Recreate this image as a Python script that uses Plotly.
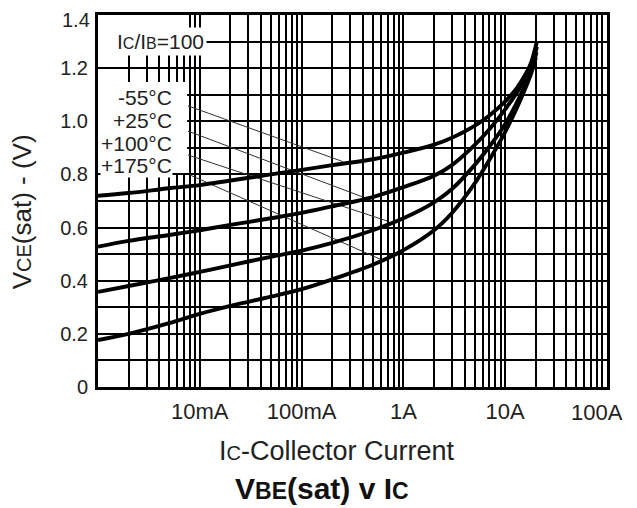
import plotly.graph_objects as go

# ---- data ----
current_a = [0.001, 0.002, 0.005, 0.01, 0.02, 0.05, 0.1, 0.2, 0.5, 1, 2, 3, 5, 7, 10, 13, 16, 18]
v_m55 = [0.72, 0.73, 0.748, 0.76, 0.777, 0.80, 0.817, 0.835, 0.857, 0.882, 0.912, 0.938, 0.983, 1.022, 1.075, 1.125, 1.18, 1.222]
v_p25 = [0.528, 0.55, 0.572, 0.59, 0.61, 0.635, 0.655, 0.68, 0.715, 0.752, 0.795, 0.835, 0.91, 0.97, 1.045, 1.108, 1.168, 1.205]
v_p100 = [0.358, 0.38, 0.41, 0.433, 0.458, 0.49, 0.513, 0.542, 0.59, 0.635, 0.695, 0.745, 0.835, 0.905, 0.99, 1.07, 1.145, 1.19]
v_p175 = [0.177, 0.20, 0.24, 0.275, 0.305, 0.34, 0.368, 0.405, 0.46, 0.515, 0.59, 0.655, 0.765, 0.855, 0.96, 1.05, 1.13, 1.18]
end_current = [20.5, 20.5, 20.3, 20.0]
end_v = [1.30, 1.28, 1.26, 1.24]

series_names = ["-55°C", "+25°C", "+100°C", "+175°C"]
series_values = [v_m55, v_p25, v_p100, v_p175]

# leader lines (label -> curve)
leader_start_i = [0.00765, 0.00765, 0.00765, 0.0080]
leader_start_v = [1.058, 0.963, 0.873, 0.798]
leader_end_i = [0.255, 0.42, 0.69, 0.60]
leader_end_v = [0.848, 0.712, 0.625, 0.48]
label_v = [1.088, 1.002, 0.917, 0.833]

x_tick_labels = {0.01: "10mA", 0.1: "100mA", 1: "1A", 10: "10A"}
last_x_label = "100A"
y_tick_labels = ["0", "0.2", "0.4", "0.6", "0.8", "1.0", "1.2", "1.4"]

FONT = "Liberation Sans, Arial, sans-serif"
TXT = "#222"

fig = go.Figure()

# leader lines
lx, ly = [], []
for a, b, c, d in zip(leader_start_i, leader_start_v, leader_end_i, leader_end_v):
    lx += [a, c, None]
    ly += [b, d, None]
fig.add_trace(go.Scatter(x=lx, y=ly, mode="lines", line=dict(color="#333", width=1),
                         hoverinfo="skip", showlegend=False))

for name, vals, ei, ev in zip(series_names, series_values, end_current, end_v):
    fig.add_trace(go.Scatter(x=current_a + [ei], y=vals + [ev], mode="lines", name=name,
                             line=dict(color="black", width=3.9, shape="spline", smoothing=1.0),
                             showlegend=False))

# grid ticks
xt = []
for dec in [0.001, 0.01, 0.1, 1, 10]:
    for m in range(1, 10):
        xt.append(round(dec * m, 6))
xt.append(100)
xtext = [x_tick_labels.get(v, "") for v in xt]

yt = [round(i * 0.1, 1) for i in range(15)]
# top label is drawn separately (nudged down like the reference)
ytext = [y_tick_labels[i // 2] if (i % 2 == 0 and i < 14) else "" for i in range(15)]

fig.update_xaxes(type="log", range=[-3, 2], tickvals=xt, ticktext=xtext, automargin=False,
                 showgrid=True, gridcolor="black", gridwidth=1.7,
                 showline=True, linecolor="black", linewidth=3, mirror=True,
                 ticks="outside", ticklen=3, tickcolor="rgba(0,0,0,0)",
                 tickfont=dict(family=FONT, size=22, color=TXT), zeroline=False)
fig.update_yaxes(range=[0, 1.4], tickvals=yt, ticktext=ytext, automargin=False,
                 showgrid=True, gridcolor="black", gridwidth=1.7,
                 showline=True, linecolor="black", linewidth=3, mirror=True,
                 ticks="outside", ticklen=3, tickcolor="rgba(0,0,0,0)",
                 tickfont=dict(family=FONT, size=20, color=TXT), zeroline=False)

fig.add_annotation(x=0, y=1.4, xref="paper", yref="y", text=y_tick_labels[-1], showarrow=False,
                   xanchor="right", yanchor="middle", xshift=-6, yshift=-5,
                   font=dict(family=FONT, size=20, color=TXT))
# last x tick label, nudged inside like the reference
fig.add_annotation(x=2, y=0, xref="x", yref="paper", text=last_x_label, showarrow=False,
                   xanchor="center", yanchor="middle",
                   xshift=-10, yshift=-25, font=dict(family=FONT, size=22, color=TXT))

# white label panels hiding the grid (between grid and traces)
fig.add_shape(type="rect", xref="x", yref="y", x0=0.001, x1=0.0075, y0=0.805, y1=1.148,
              fillcolor="white", line=dict(width=0), layer="between")
fig.add_shape(type="rect", xref="x", yref="y", x0=0.001, x1=0.0075, y0=1.26, y1=1.4,
              fillcolor="white", line=dict(width=0), layer="between")

fig.add_annotation(x=-2.39, y=1.3, xref="x", yref="y",
                   text="I<span style='font-size:16px'>C</span>/I<span style='font-size:16px'>B</span>=100",
                   showarrow=False, bgcolor="white", borderpad=2,
                   font=dict(family=FONT, size=21, color=TXT))
for name, v in zip(series_names, label_v):
    fig.add_annotation(x=-2.26, y=v, xref="x", yref="y", text=name, showarrow=False,
                       xanchor="right", yanchor="middle", bgcolor="white", borderpad=0,
                       font=dict(family=FONT, size=21, color=TXT))

fig.add_annotation(x=-0.149, y=0.47, xref="paper", yref="paper", textangle=-90,
                   xanchor="center", yanchor="middle",
                   text="V<span style='font-size:20px'>CE</span>(sat) - (V)", showarrow=False,
                   font=dict(family=FONT, size=26, color=TXT))
fig.add_annotation(x=0.47, y=-0.172, xref="paper", yref="paper",
                   xanchor="center", yanchor="middle",
                   text="I<span style='font-size:20px'>C</span>-Collector Current", showarrow=False,
                   font=dict(family=FONT, size=27, color=TXT))
fig.add_annotation(x=0.44, y=-0.274, xref="paper", yref="paper",
                   xanchor="center", yanchor="middle",
                   text="<b>V<span style='font-size:23px'>BE</span>(sat) v I<span style='font-size:23px'>C</span></b>",
                   showarrow=False, font=dict(family=FONT, size=30, color="#111"))

# the page body has an 8px margin, so the figure is sized/margined to land the
# plot area where the reference has it
fig.update_layout(width=629, height=500, margin=dict(l=90, r=30, t=7, b=121),
                  plot_bgcolor="white", paper_bgcolor="white", showlegend=False)

fig.write_html("out.html")
